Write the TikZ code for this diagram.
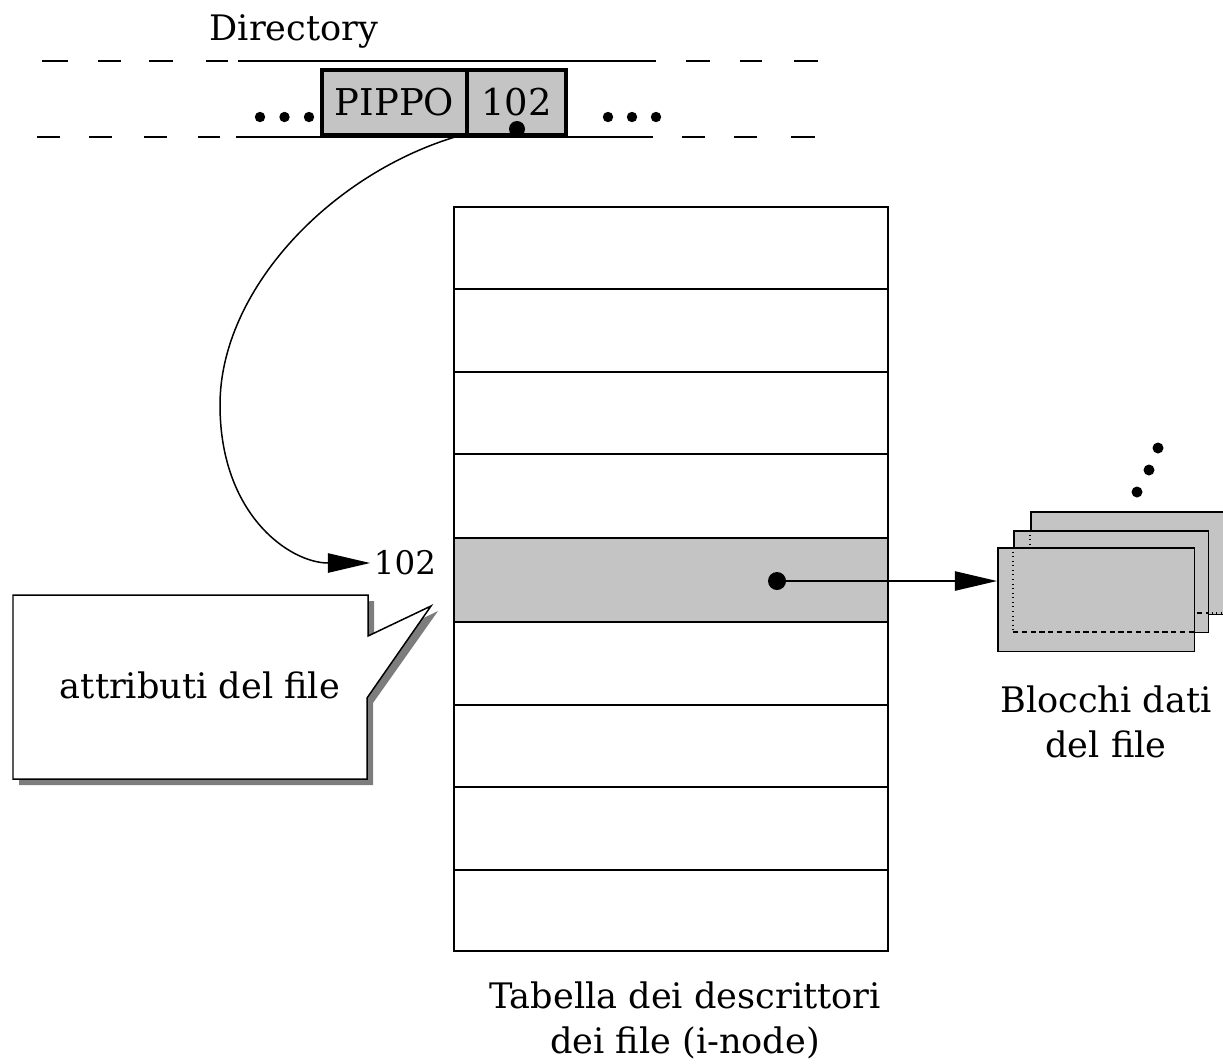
\documentclass[tikz,border=0pt]{standalone}
\usepackage{fontspec}
\setmainfont{DejaVu Serif}
\usetikzlibrary{arrows.meta}
\definecolor{cellgray}{RGB}{196,196,196}
\definecolor{shadowgray}{RGB}{125,125,125}
\begin{document}
\begin{tikzpicture}[x=0.02cm,y=-0.02cm,
  lbl/.style={font=\fontsize{20}{25.5}\selectfont, inner sep=0pt, align=center},
  numlbl/.style={font=\fontsize{18.5}{22}\selectfont, inner sep=2pt},
  ln/.style={line width=0.85pt},
  cellbox/.style={draw, line width=2.8pt, fill=cellgray, inner sep=0pt, minimum height=1.3cm, font=\fontsize{21}{24}\selectfont},
  blk/.style={draw, line width=0.85pt, fill=cellgray, inner sep=0pt},
  bigtip/.style={-{Triangle[length=24pt,width=11pt]}},
  pdot/.style={circle, fill=black, inner sep=0pt, minimum size=0.36cm}
]
\useasboundingbox (0,0) rectangle (1223,1063);

% ---------- Directory ----------
\node[lbl] (dir) at (294,31) {Directory};
\draw[ln] (42,61)--(68,61) (98,61)--(121,61) (149,61)--(173,61) (206,61)--(228,61);
\draw[ln] (238,61)--(656,61);
\draw[ln] (686,61)--(710,61) (740,61)--(762,61) (794,61)--(818,61);
\draw[ln] (37,137)--(60,137) (89,137)--(112,137) (144,137)--(167,137) (198,137)--(220,137);
\draw[ln] (236,137)--(653,137);
\draw[ln] (682,137)--(705,137) (734,137)--(757,137) (791,137)--(815,137);

\node[cellbox, minimum width=2.9cm] (pippo) at (394.5,102.5) {PIPPO};
\node[cellbox, minimum width=1.98cm] (num) at (516.5,102.5) {102};
\node[pdot, minimum size=0.32cm] (ptr) at (517,129) {};

\foreach \x in {260,284.5,309,608,632,656}
  \fill (\x,117) circle (5.2);

% ---------- Table ----------
\node[draw, ln, inner sep=0pt, minimum width=8.68cm, minimum height=14.88cm] (table) at (671,579) {};
\node[blk, minimum width=8.68cm, minimum height=1.68cm] (row) at (671,580) {};
\foreach \y in {289,372,454,705,787,870}
  \draw[ln] (454,\y)--(888,\y);
\node[pdot] (rdot) at (777,581) {};

\node[numlbl] (n102) at (405,563) {102};
\coordinate (cstart) at (455,137);
\draw[ln, bigtip] (cstart) .. controls (330,175) and (220,290) .. (220,405)
  .. controls (220,515) and (290,563) .. (n102.west);

\node[lbl] (tlabel) at (685,1020) {Tabella dei descrittori\\dei file (i-node)};

% ---------- Callout ----------
\fill[shadowgray] (19,601) -- (374,601) -- (374,642) -- (438,611) -- (373,703) -- (373,785) -- (19,785) -- cycle;
\draw[ln, fill=white] (13,595) -- (368,595) -- (368,636) -- (431,606) -- (367,698) -- (367,779) -- (13,779) -- cycle;
\node[lbl] (attr) at (200,685) {attributi del file};

% ---------- Data blocks ----------
\begin{scope}
\clip (0,0) rectangle (1223,1063);
\node[blk, minimum width=4.2cm, minimum height=2.06cm, anchor=north west] (back) at (1030,511) {};
\end{scope}
\node[blk, minimum width=3.9cm, minimum height=2.04cm, anchor=north west] (mid) at (1013,530) {};
\draw[line width=0.6pt, dotted] (1030,530)--(1030,613) (1207,613)--(1223,613);
\draw[line width=0.6pt, densely dashed] (1030,613)--(1207,613);
\node[blk, minimum width=3.94cm, minimum height=2.08cm, anchor=north west] (front) at (997,547) {};
\draw[line width=0.6pt, dotted] (1013,547)--(1013,632);
\draw[line width=0.6pt, densely dashed] (1013,632)--(1194,632);

\draw[ln, bigtip] (rdot.center) -- (rdot.center -| front.west);

\foreach \p in {(1158,448),(1149,470),(1137,492)}
  \fill \p circle (5.5);

\node[lbl] (blabel) at (1106,722) {Blocchi dati\\del file};
\end{tikzpicture}
\end{document}
